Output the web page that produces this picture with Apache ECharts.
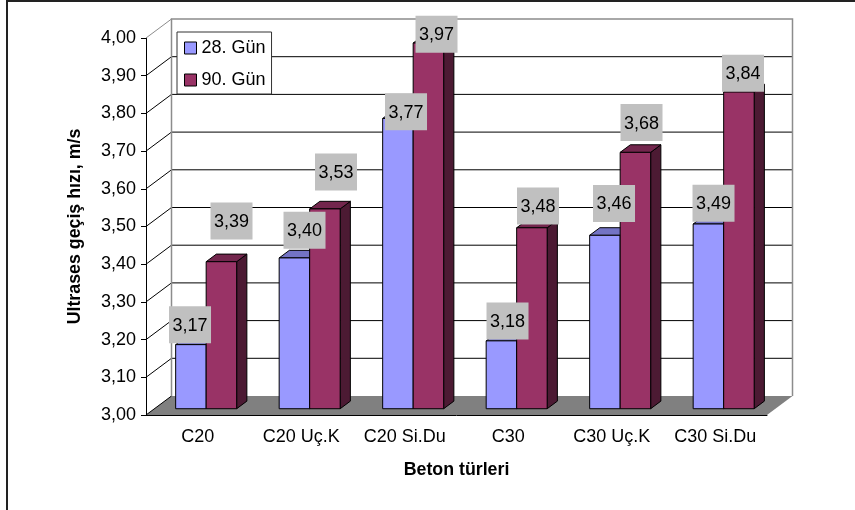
<!DOCTYPE html>
<html>
<head>
<meta charset="utf-8">
<script src="https://cdn.jsdelivr.net/npm/echarts@6/dist/echarts.min.js"></script>
<style>
  html, body { margin: 0; padding: 0; background: #fff; }
  #chart { width: 855px; height: 510px; }
</style>
</head>
<body>
<div id="chart"></div>
<script>
// Ultrasonic pulse velocity by concrete type, 28 and 90 days
const categories = ['C20', 'C20 Uç.K', 'C20 Si.Du', 'C30', 'C30 Uç.K', 'C30 Si.Du'];
const seriesNames = ['28. Gün', '90. Gün'];
const day28 = [3.17, 3.40, 3.77, 3.18, 3.46, 3.49];
const day90 = [3.39, 3.53, 3.97, 3.48, 3.68, 3.84];
const yTicks = [3.0, 3.1, 3.2, 3.3, 3.4, 3.5, 3.6, 3.7, 3.8, 3.9, 4.0];

// ---- layout / style ----
const FONT = '"Liberation Sans", Arial, sans-serif';
const DEPTH = { x: 25.5, y: -19 };          // full floor depth in pixels
const BAR = { front: 0.33, depth: 0.4, width: 30.5 };
const COLORS = [
  { front: '#9999FF', top: '#7373C4', side: '#4C4C80' },
  { front: '#993366', top: '#73264D', side: '#4C1A33' }
];
// value-label nudges relative to the top face centre: [dx, dy]
const labelNudge = [
  [[-6, -16], [5, -24], [3, -3], [1, -16], [4, -28], [0, -17]],
  [[5, -37], [6, -33], [3, -5], [1, -18], [1, -26], [-1, -15]]
];

const fmt = v => v.toFixed(2).replace('.', ',');
const yAt = (api, v) => api.coord([0, v])[1];

function barGeometry(params, api, s, i, v) {
  const cs = params.coordSys;
  const band = cs.width / categories.length;
  const sx = BAR.front * DEPTH.x, sy = BAR.front * DEPTH.y;
  const bx = BAR.depth * DEPTH.x, by = BAR.depth * DEPTH.y;
  const cx = cs.x + band * (i + 0.5) + sx;
  const x0 = s === 0 ? cx - BAR.width : cx;
  const x1 = x0 + BAR.width;
  const yb = yAt(api, yTicks[0]) + sy;
  const yt = yAt(api, v) + sy;
  return { x0, x1, yb, yt, bx, by };
}

function renderWalls(params, api) {
  const cs = params.coordSys;
  const L = cs.x, R = cs.x + cs.width;
  const dx = DEPTH.x, dy = DEPTH.y;
  const y0 = yAt(api, yTicks[0]);
  const y1 = yAt(api, yTicks[yTicks.length - 1]);
  const children = [];
  children.push({
    type: 'polygon',
    shape: { points: [[L, y0], [R, y0], [R + dx, y0 + dy], [L + dx, y0 + dy]] },
    style: { fill: '#808080' }
  });
  yTicks.forEach((v, k) => {
    const y = yAt(api, v);
    const last = k === yTicks.length - 1;
    children.push({
      type: 'line',
      shape: { x1: L, y1: y, x2: L + dx, y2: y + dy },
      style: { stroke: last ? '#8C8C8C' : '#000', lineWidth: 1 }
    });
    if (k > 0 && !last) {
      children.push({
        type: 'line',
        shape: { x1: L + dx, y1: y + dy, x2: R + dx, y2: y + dy },
        style: { stroke: '#000', lineWidth: 1 }
      });
    }
  });
  children.push({
    type: 'polyline',
    shape: { points: [[L + dx, y0 + dy], [L + dx, y1 + dy], [R + dx, y1 + dy], [R + dx, y0 + dy]] },
    style: { stroke: '#8C8C8C', fill: null, lineWidth: 1.5 }
  });
  return { type: 'group', children };
}

function makeBarRenderer(s) {
  const c = COLORS[s];
  return function (params, api) {
    const i = api.value(0), v = api.value(1);
    const g = barGeometry(params, api, s, i, v);
    const st = { stroke: '#000', lineWidth: 1, lineJoin: 'round' };
    return {
      type: 'group',
      children: [
        { type: 'polygon',
          shape: { points: [[g.x1, g.yt], [g.x1 + g.bx, g.yt + g.by], [g.x1 + g.bx, g.yb + g.by], [g.x1, g.yb]] },
          style: Object.assign({ fill: c.side }, st) },
        { type: 'polygon',
          shape: { points: [[g.x0, g.yt], [g.x1, g.yt], [g.x1 + g.bx, g.yt + g.by], [g.x0 + g.bx, g.yt + g.by]] },
          style: Object.assign({ fill: c.top }, st) },
        { type: 'rect',
          shape: { x: g.x0, y: g.yt, width: BAR.width, height: g.yb - g.yt },
          style: Object.assign({ fill: c.front }, st) }
      ]
    };
  };
}

function renderLabel(params, api) {
  const i = api.value(0), v = api.value(1), s = api.value(2);
  const g = barGeometry(params, api, s, i, v);
  const n = labelNudge[s][i];
  const cx = (g.x0 + g.x1) / 2 + g.bx / 2 + n[0];
  const cy = g.yt + g.by / 2 + n[1];
  return {
    type: 'group',
    children: [
      { type: 'rect', shape: { x: cx - 21, y: cy - 18.5, width: 42, height: 37 }, style: { fill: '#C0C0C0' } },
      { type: 'text', style: { x: cx, y: cy + 1, text: fmt(v), fill: '#000', font: '18px ' + FONT, align: 'center', verticalAlign: 'middle' } }
    ]
  };
}

const labelData = [];
[day28, day90].forEach((arr, s) => arr.forEach((v, i) => labelData.push([i, v, s])));

const chart = echarts.init(document.getElementById('chart'), null, { renderer: 'canvas' });
chart.setOption({
  animation: false,
  backgroundColor: '#fff',
  textStyle: { fontFamily: FONT },
  graphic: [{
    type: 'rect', z: -10,
    shape: { x: 7, y: 1, width: 900, height: 600 },
    style: { fill: null, stroke: '#222', lineWidth: 2 }
  }],
  grid: { left: 146, right: 88, top: 38, bottom: 95 },
  legend: {
    data: seriesNames,
    orient: 'vertical',
    left: 177, top: 32,
    padding: [6, 6, 4, 7],
    itemGap: 12, itemWidth: 12, itemHeight: 12,
    icon: 'rect',
    itemStyle: { borderColor: '#000', borderWidth: 1 },
    textStyle: { fontFamily: FONT, fontSize: 18, color: '#000', lineHeight: 20 },
    borderColor: '#333', borderWidth: 1, backgroundColor: '#fff',
    selectedMode: false
  },
  xAxis: {
    type: 'category',
    data: categories,
    name: 'Beton türleri',
    nameLocation: 'middle',
    nameGap: 46,
    nameTextStyle: { fontFamily: FONT, fontSize: 17.8, fontWeight: 'bold', color: '#000' },
    axisLine: { lineStyle: { color: '#000', width: 1 } },
    axisTick: { length: 7, interval: 0, lineStyle: { color: '#000' } },
    axisLabel: { fontFamily: FONT, fontSize: 18, color: '#000', margin: 13, interval: 0 },
    splitLine: { show: false }
  },
  yAxis: {
    type: 'value',
    min: 3, max: 4, interval: 0.1,
    name: 'Ultrases geçiş hızı, m/s',
    nameLocation: 'middle',
    nameGap: 62,
    nameTextStyle: { fontFamily: FONT, fontSize: 17.8, fontWeight: 'bold', color: '#000' },
    axisLine: { show: true, lineStyle: { color: '#000', width: 1 } },
    axisTick: { show: true, length: 5, lineStyle: { color: '#000' } },
    axisLabel: { fontFamily: FONT, fontSize: 18, color: '#000', margin: 10, formatter: v => fmt(v) },
    splitLine: { show: false }
  },
  series: [
    { type: 'custom', name: 'walls', z: 1, silent: true, renderItem: renderWalls, data: [[0, 3]] },
    { type: 'custom', name: seriesNames[0], z: 3, itemStyle: { color: COLORS[0].front },
      renderItem: makeBarRenderer(0), data: day28.map((v, i) => [i, v]) },
    { type: 'custom', name: seriesNames[1], z: 3, itemStyle: { color: COLORS[1].front },
      renderItem: makeBarRenderer(1), data: day90.map((v, i) => [i, v]) },
    { type: 'custom', name: 'values', z: 5, silent: true, renderItem: renderLabel, data: labelData }
  ]
});
</script>
</body>
</html>
